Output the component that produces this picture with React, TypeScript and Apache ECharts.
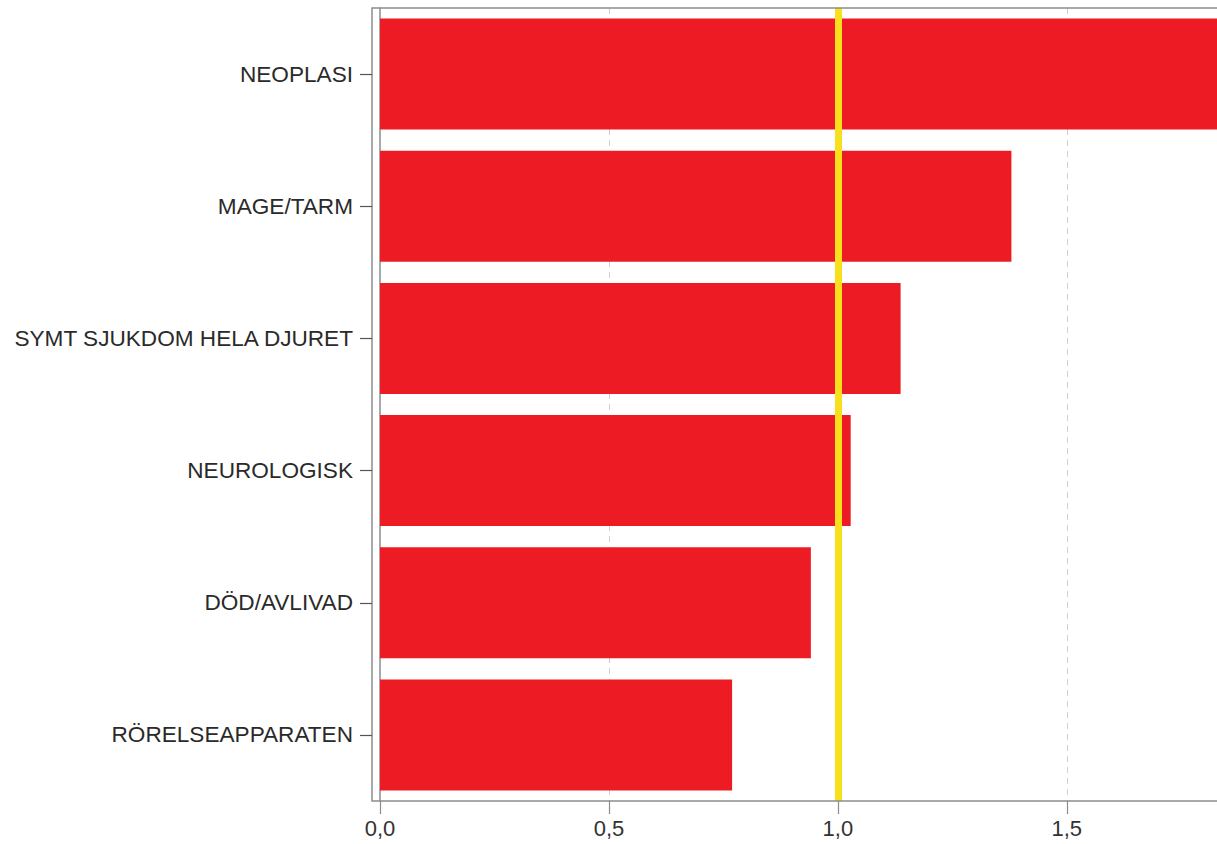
import React, { useEffect, useRef } from "react";
import * as echarts from "echarts";

const categories = [
  "NEOPLASI",
  "MAGE/TARM",
  "SYMT SJUKDOM HELA DJURET",
  "NEUROLOGISK",
  "DÖD/AVLIVAD",
  "RÖRELSEAPPARATEN",
];
const values = [1.95, 1.379, 1.137, 1.028, 0.941, 0.769];
const referenceValue = 1.0;
const xMin = 0;
const xMax = 1.828;
const xInterval = 0.5;

export default function App() {
  const ref = useRef<HTMLDivElement>(null);

  useEffect(() => {
    document.body.style.margin = "0";
    if (!ref.current) return;
    const chart = echarts.init(ref.current, null, { renderer: "svg" });
    const font = "'Liberation Sans', Arial, sans-serif";
    const axisGrey = "#8c8c8c";
    chart.setOption({
      animation: false,
      backgroundColor: "#ffffff",
      grid: { left: 380, right: 0, top: 8, bottom: 43, containLabel: false },
      xAxis: {
        type: "value",
        min: xMin,
        max: xMax,
        interval: xInterval,
        axisLine: { show: false, onZero: false },
        axisTick: { show: true, length: 13, lineStyle: { color: axisGrey, width: 1.2 } },
        axisLabel: {
          color: "#333",
          fontFamily: font,
          fontSize: 22,
          margin: 16,
          showMaxLabel: false,
          formatter: (v: number) =>
            Math.abs(v / xInterval - Math.round(v / xInterval)) < 1e-6
              ? v.toFixed(1).replace(".", ",")
              : "",
        },
        splitLine: {
          show: true,
          showMinLine: false,
          showMaxLine: false,
          lineStyle: { color: "#cfcfcf", type: [6, 5], width: 1 },
        },
      },
      yAxis: [
        {
          type: "category",
          data: categories,
          inverse: true,
          position: "left",
          offset: 8,
          axisLine: { show: true, onZero: false, lineStyle: { color: axisGrey, width: 1.5 } },
          axisTick: { show: true, alignWithLabel: true, length: 12, lineStyle: { color: "#555", width: 1.2 } },
          axisLabel: { color: "#2a2a2a", fontFamily: font, fontSize: 22.6, margin: 19 },
          splitLine: { show: false },
        },
        {
          type: "category",
          data: categories,
          inverse: true,
          position: "left",
          offset: 0,
          axisLine: { show: true, onZero: false, lineStyle: { color: axisGrey, width: 1.5 } },
          axisTick: { show: false },
          axisLabel: { show: false },
          splitLine: { show: false },
        },
      ],
      graphic: [
        {
          type: "line",
          shape: { x1: 372, y1: 8, x2: 1217, y2: 8 },
          style: { stroke: axisGrey, lineWidth: 1.5 },
          z: 10,
        },
        {
          type: "line",
          shape: { x1: 372, y1: 801, x2: 1217, y2: 801 },
          style: { stroke: axisGrey, lineWidth: 1.5 },
          z: 10,
        },
      ],
      series: [
        {
          type: "bar",
          data: values,
          yAxisIndex: 0,
          barCategoryGap: "16%",
          itemStyle: { color: "#ED1C24" },
          markLine: {
            silent: true,
            symbol: "none",
            label: { show: false },
            lineStyle: { color: "#F8E01C", width: 7, type: "solid" },
            data: [{ xAxis: referenceValue }],
          },
        },
      ],
    });
    return () => chart.dispose();
  }, []);

  return <div ref={ref} style={{ width: 1217, height: 844 }} />;
}
